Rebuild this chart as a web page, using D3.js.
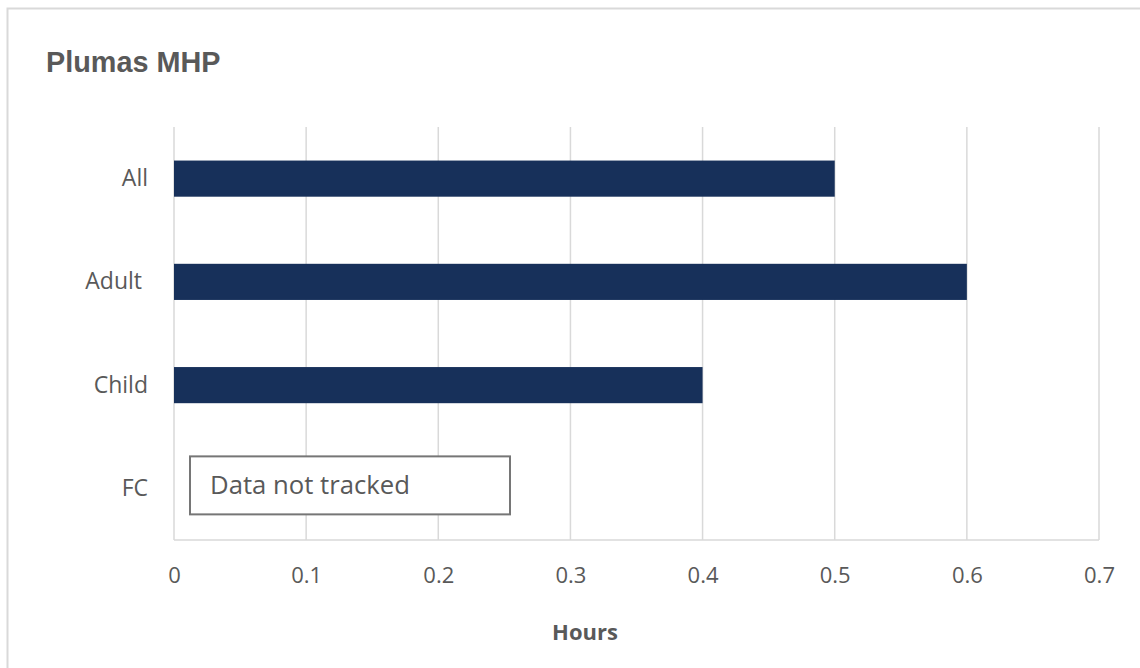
<!DOCTYPE html>
<html><head><meta charset="utf-8">
<script src="https://cdn.jsdelivr.net/npm/d3@7"></script>
<style>body{margin:0;background:#fff}svg{display:block}</style>
</head><body><svg id="c" width="1140" height="668"></svg>
<script>
const categories = ["All", "Adult ", "Child", "FC"];
const values = [0.5, 0.6, 0.4, null];
const xTicks = [0, 0.1, 0.2, 0.3, 0.4, 0.5, 0.6, 0.7];
const title = "Plumas MHP";
const xTitle = "Hours";
const note = "Data not tracked";

const svg = d3.select("#c");
const W = 1140, H = 668;
const m = {left: 174, right: 1099, top: 127, bottom: 540};
const font = "'Open Sans', sans-serif";

svg.append("rect").attr("x", 7.5).attr("y", 8.5).attr("width", W + 10).attr("height", H + 10)
  .attr("fill", "#fff").attr("stroke", "#d9d9d9").attr("stroke-width", 2);

const x = d3.scaleLinear().domain([0, 0.7]).range([m.left, m.right]);
const y = d3.scaleBand().domain(categories).range([m.top, m.bottom]).paddingInner(0.65).paddingOuter(0.325);

// gridlines
svg.append("g").selectAll("line").data(xTicks).join("line")
  .attr("x1", d => x(d)).attr("x2", d => x(d)).attr("y1", m.top).attr("y2", m.bottom)
  .attr("stroke", "#d9d9d9").attr("stroke-width", 1.5);
svg.append("line").attr("x1", m.left).attr("x2", m.right).attr("y1", m.bottom).attr("y2", m.bottom)
  .attr("stroke", "#d9d9d9").attr("stroke-width", 1.5);

// bars
svg.append("g").selectAll("rect").data(categories.map((c, i) => ({c, v: values[i]})).filter(d => d.v != null))
  .join("rect")
  .attr("x", x(0)).attr("y", d => y(d.c)).attr("width", d => x(d.v) - x(0)).attr("height", y.bandwidth())
  .attr("fill", "#17305a");

// x axis
const xa = svg.append("g").attr("transform", `translate(0,${m.bottom})`)
  .call(d3.axisBottom(x).tickValues(xTicks).tickFormat(d => d3.format("")(+d.toFixed(1))).tickSize(0).tickPadding(27));
xa.select(".domain").remove();
xa.attr("font-family", font).attr("font-size", 22);
xa.selectAll("text").attr("fill", "#595959");

// y axis
const ya = svg.append("g").attr("transform", `translate(${m.left},0)`)
  .call(d3.axisLeft(y).tickSize(0).tickPadding(26));
ya.select(".domain").remove();
ya.attr("font-family", font).attr("font-size", 23);
ya.selectAll("text").attr("fill", "#595959").style("white-space", "pre");

// title
svg.append("text").attr("x", 46).attr("y", 72).text(title)
  .attr("font-family", "'Liberation Sans', Arial, sans-serif").attr("font-weight", "bold")
  .attr("font-size", 28.8).attr("fill", "#595959");

// x title
svg.append("text").attr("x", 585).attr("y", 640).attr("text-anchor", "middle").text(xTitle)
  .attr("font-family", font).attr("font-weight", "bold").attr("font-size", 22).attr("fill", "#595959");

// note box
const fcY = y("FC") + y.bandwidth() / 2;
svg.append("rect").attr("x", 190).attr("y", fcY - 32).attr("width", 320).attr("height", 58)
  .attr("fill", "#fff").attr("stroke", "#767676").attr("stroke-width", 2);
svg.append("text").attr("x", 210).attr("y", fcY - 3).attr("dy", "0.35em").text(note)
  .attr("font-family", font).attr("font-size", 25.7).attr("fill", "#595959");
</script></body></html>
